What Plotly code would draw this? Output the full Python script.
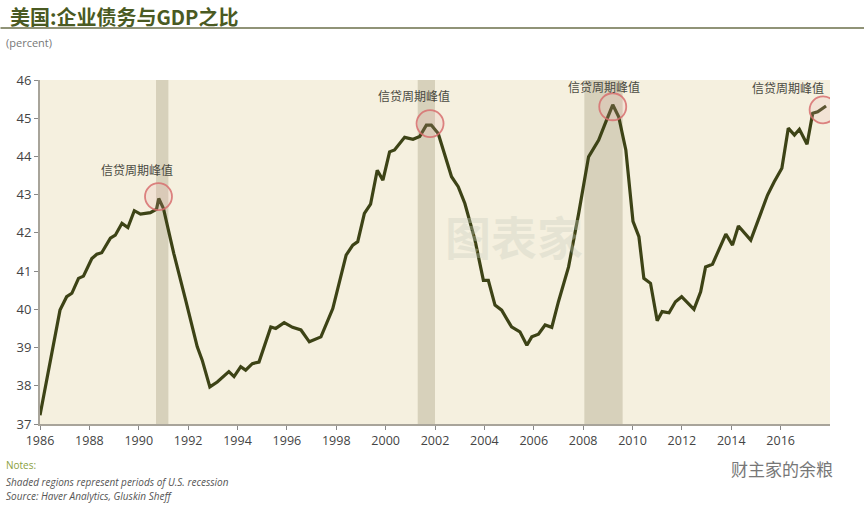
import plotly.graph_objects as go

# ---- data ----
years = [1986.0, 1986.81, 1987.08, 1987.29, 1987.56, 1987.76, 1988.1, 1988.3, 1988.5, 1988.85,
         1989.05, 1989.32, 1989.56, 1989.82, 1990.07, 1990.47, 1990.72, 1990.81, 1991.0, 1991.42,
         1991.9, 1992.37, 1992.57, 1992.88, 1993.18, 1993.45, 1993.65, 1993.86, 1994.13, 1994.33,
         1994.6, 1994.87, 1995.35, 1995.55, 1995.89, 1996.23, 1996.57, 1996.91, 1997.38, 1997.86,
         1998.13, 1998.4, 1998.67, 1998.87, 1999.14, 1999.39, 1999.66, 1999.89, 2000.16, 2000.36,
         2000.77, 2001.11, 2001.38, 2001.65, 2001.85, 2002.13, 2002.67, 2002.94, 2003.21, 2003.62,
         2003.96, 2004.16, 2004.43, 2004.7, 2005.1, 2005.44, 2005.72, 2005.92, 2006.19, 2006.46,
         2006.73, 2007.0, 2007.41, 2007.82, 2008.22, 2008.63, 2008.9, 2009.2, 2009.44, 2009.73,
         2010.02, 2010.26, 2010.46, 2010.73, 2011.0, 2011.2, 2011.48, 2011.74, 2011.99, 2012.49,
         2012.76, 2012.96, 2013.24, 2013.78, 2014.05, 2014.29, 2014.79, 2015.13, 2015.47, 2015.74,
         2016.05, 2016.31, 2016.56, 2016.76, 2017.07, 2017.3, 2017.5, 2017.84]
debt_to_gdp = [37.23, 39.98, 40.33, 40.42, 40.81, 40.87, 41.33, 41.44, 41.48, 41.86,
               41.94, 42.25, 42.14, 42.58, 42.49, 42.53, 42.62, 42.90, 42.64, 41.46,
               40.24, 39.02, 38.67, 37.97, 38.10, 38.24, 38.37, 38.24, 38.50, 38.41,
               38.58, 38.62, 39.54, 39.50, 39.65, 39.53, 39.46, 39.15, 39.28, 40.02,
               40.68, 41.42, 41.68, 41.77, 42.51, 42.75, 43.64, 43.38, 44.12, 44.17,
               44.50, 44.45, 44.52, 44.82, 44.82, 44.60, 43.47, 43.21, 42.77, 41.81,
               40.76, 40.76, 40.11, 39.98, 39.54, 39.41, 39.06, 39.28, 39.35, 39.59,
               39.53, 40.20, 41.11, 42.51, 43.99, 44.43, 44.87, 45.35, 45.04, 44.17,
               42.30, 41.90, 40.81, 40.68, 39.70, 39.94, 39.91, 40.20, 40.33, 40.00,
               40.46, 41.11, 41.18, 41.97, 41.68, 42.18, 41.81, 42.42, 42.99, 43.34,
               43.69, 44.74, 44.56, 44.71, 44.32, 45.13, 45.17, 45.32]

peak_years = [1990.8, 2001.8, 2009.2, 2017.72]
peak_values = [42.95, 44.86, 45.3, 45.22]
peak_label = "信贷周期峰值"

recession_starts = [1990.7, 2001.3, 2008.05]
recession_ends = [1991.2, 2002.0, 2009.6]

x_ticks = list(range(1986, 2017, 2))
y_ticks = list(range(37, 47))

# ---- figure ----
fig = go.Figure()

fig.add_trace(go.Scatter(
    x=years, y=debt_to_gdp, mode="lines",
    line=dict(color="#3d4316", width=3.2),
    hoverinfo="skip", showlegend=False))

fig.add_trace(go.Scatter(
    x=peak_years, y=peak_values, mode="markers",
    marker=dict(symbol="circle", size=27, color="rgba(235,170,170,0.18)",
                line=dict(color="rgba(215,110,110,0.85)", width=1.8)),
    hoverinfo="skip", showlegend=False))

shapes = []
for s, e in zip(recession_starts, recession_ends):
    shapes.append(dict(type="rect", xref="x", yref="paper", x0=s, x1=e, y0=0, y1=1,
                       fillcolor="rgba(185,178,152,0.5)", line=dict(width=0), layer="below"))
# title underline
shapes.append(dict(type="line", xref="paper", yref="paper", x0=-0.05, x1=1.05,
                   y0=1.151, y1=1.151, line=dict(color="#6b6f4a", width=1.5)))

label_dx = [-22, -16, -9, -35]
label_dy = [27, 28, 20, 22]
annotations = []
for px, py, dx, dy in zip(peak_years, peak_values, label_dx, label_dy):
    annotations.append(dict(x=px, y=py, xref="x", yref="y", text=peak_label, showarrow=False,
                            xshift=dx, yshift=dy, font=dict(size=12, color="#4a4a42",
                                                             family="Noto Sans CJK SC")))

annotations += [
    dict(xref="paper", yref="paper", x=-0.04, y=1.185, xanchor="left", yanchor="middle",
         text="<b>美国:企业债务与GDP之比</b>", showarrow=False,
         font=dict(size=20, color="#4a5a22", family="Noto Sans CJK SC")),
    dict(xref="paper", yref="paper", x=-0.046, y=1.11, xanchor="left", yanchor="middle",
         text="(percent)", showarrow=False, font=dict(size=11, color="#777")),
    dict(xref="paper", yref="paper", x=0.6, y=0.55, xanchor="center", yanchor="middle",
         text="<b>图表家</b>", showarrow=False,
         font=dict(size=46, color="rgba(200,205,190,0.35)", family="Noto Sans CJK SC")),
    dict(xref="paper", yref="paper", x=-0.046, y=-0.119, xanchor="left", yanchor="middle",
         text="Notes:", showarrow=False, font=dict(size=10, color="#8aa040")),
    dict(xref="paper", yref="paper", x=-0.046, y=-0.169, xanchor="left", yanchor="middle",
         text="<i>Shaded regions represent periods of U.S. recession</i>", showarrow=False,
         font=dict(size=10, color="#555")),
    dict(xref="paper", yref="paper", x=-0.046, y=-0.209, xanchor="left", yanchor="middle",
         text="<i>Source: Haver Analytics, Gluskin Sheff</i>", showarrow=False,
         font=dict(size=10, color="#555")),
    dict(xref="paper", yref="paper", x=1.006, y=-0.128, xanchor="right", yanchor="middle",
         text="财主家的余粮", showarrow=False,
         font=dict(size=17, color="#777", family="Noto Sans CJK SC")),
]

fig.update_layout(
    width=864, height=506,
    margin=dict(l=40, r=34, t=80, b=82),
    paper_bgcolor="white",
    plot_bgcolor="#f5f0df",
    font=dict(family="Open Sans, Noto Sans CJK SC", color="#444"),
    xaxis=dict(range=[1986, 2018], tickvals=x_ticks, ticktext=[str(t) for t in x_ticks],
               showgrid=False, zeroline=False, showline=True, linecolor="#a8a49a", linewidth=2,
               ticks="outside", ticklen=4, tickcolor="#888", tickfont=dict(size=12.5, color="#444")),
    yaxis=dict(range=[37, 46], tickvals=y_ticks, showgrid=False, zeroline=False,
               showline=True, linecolor="#a8a49a", linewidth=2,
               ticks="outside", ticklen=4, tickcolor="#888", tickfont=dict(size=13, color="#444")),
    shapes=shapes,
    annotations=annotations,
)

fig.write_html("out.html")
